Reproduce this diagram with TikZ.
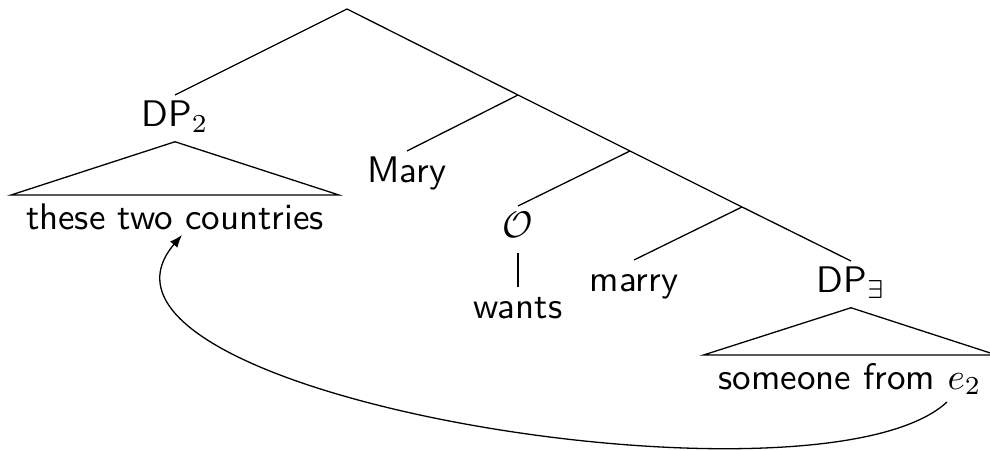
\documentclass[tikz,border=0pt]{standalone}
\usetikzlibrary{arrows.meta}
\begin{document}
\begin{tikzpicture}[x=0.27027pt,y=-0.27027pt,
  lbl/.style={font=\sffamily, inner sep=1.62pt, outer sep=0pt, text height=7pt, text depth=2.4pt, anchor=north},
  rooftext/.style={font=\sffamily, inner xsep=4.05pt, inner ysep=2.2pt, outer sep=0pt, text height=7pt, text depth=2.4pt, anchor=north},
  branch/.style={line width=0.35pt},
  movearrow/.style={line width=0.35pt, -{Latex[length=3.4pt,width=2.6pt]}}]
\useasboundingbox (0,0) rectangle (990,451);
% branch points of the spine
\coordinate (root) at (347,9);
\coordinate (c1) at (518,95);
\coordinate (c2) at (630,151);
\coordinate (c3) at (742,207);
% labels
\node[lbl] (dp2) at (175,95) {DP$_2$};
\node[lbl] (mary) at (407,151) {Mary};
\node[lbl] (op) at (518,206) {$\mathcal{O}$};
\node[lbl] (wants) at (518,287) {wants};
\node[lbl] (marry) at (634,260) {marry};
\node[lbl] (dpe) at (851,261) {DP$_{\exists}$};
\node[rooftext] (these) at (175,195) {these two countries};
\node[rooftext] (someone) at (850,355) {someone from $e_2$};
% tree lines
\draw[branch] (dp2.north) -- (root) -- (c1) -- (c2) -- (c3) -- (dpe.north);
\draw[branch] (c1) -- (mary.north);
\draw[branch] (c2) -- (op.north);
\draw[branch] (c3) -- (marry.north);
\draw[branch] (op.south) -- (wants.north);
% roofs
\draw[branch] (dp2.south) -- (these.north west) -- (these.north east) -- cycle;
\draw[branch] (dpe.south) -- (someone.north west) -- (someone.north east) -- cycle;
% movement arrow
\coordinate (src) at (947,402);
\coordinate (tgt) at (182,235);
\draw[movearrow] (src) .. controls (820,520) and (45,395) .. (tgt);
\end{tikzpicture}
\end{document}
